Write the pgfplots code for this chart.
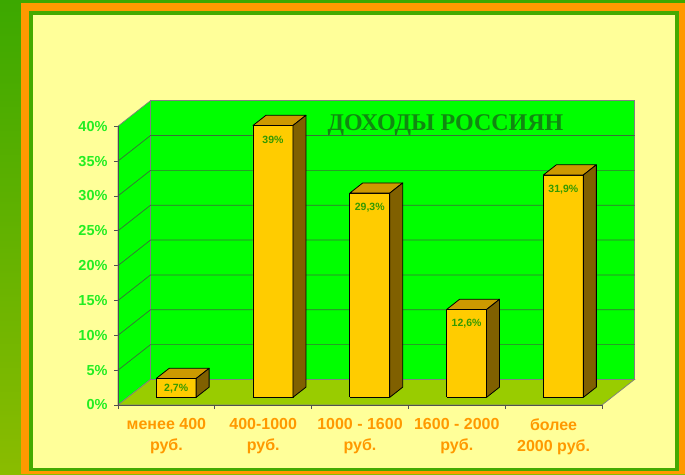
\documentclass[border=0pt]{standalone}
\usepackage{pgfplots}
\pgfplotsset{compat=1.18}
\usepackage{fontspec}
\setmainfont{Liberation Sans}
\newfontfamily\titlefont{Liberation Serif}
\definecolor{outertop}{HTML}{3CA800}
\definecolor{outerbot}{HTML}{8ABC00}
\definecolor{orangeB}{HTML}{FF9900}
\definecolor{greenline}{HTML}{44AA00}
\definecolor{paleyellow}{HTML}{FFFF99}
\definecolor{wallgreen}{HTML}{00FF00}
\definecolor{floorc}{HTML}{99CC00}
\definecolor{wallgray}{HTML}{808080}
\definecolor{gridc}{HTML}{3A6E3A}
\definecolor{tickgray}{HTML}{505050}
\definecolor{barfront}{HTML}{FFCC00}
\definecolor{bartop}{HTML}{CC9900}
\definecolor{barside}{HTML}{806000}
\definecolor{valgreen}{HTML}{339900}
\definecolor{labelorange}{HTML}{FF9900}
\definecolor{ticklabelgreen}{HTML}{22EE22}
\definecolor{titlegreen}{HTML}{118811}

\newcommand{\cubebar}[4]{%
  \pgfmathsetmacro\xa{#1-0.5+0.1007-0.2066}%
  \pgfmathsetmacro\xb{\xa+0.4132}%
  \pgfmathsetmacro\xc{\xa+0.1343}%
  \pgfmathsetmacro\xd{\xb+0.1343}%
  \pgfmathsetmacro\yb{1.098}%
  \pgfmathsetmacro\yt{1.098+#2}%
  \pgfmathsetmacro\ybb{1.098+1.464}%
  \pgfmathsetmacro\ytt{\yt+1.464}%
  \pgfmathsetmacro\xm{(\xa+\xb)/2}%
  \addplot[fill=barfront, draw=black, line width=0.8pt, line join=round]
    coordinates {(\xa,\yb) (\xb,\yb) (\xb,\yt) (\xa,\yt) (\xa,\yb)};
  \addplot[fill=bartop, draw=black, line width=0.8pt, line join=round]
    coordinates {(\xa,\yt) (\xb,\yt) (\xd,\ytt) (\xc,\ytt) (\xa,\yt)};
  \addplot[fill=barside, draw=black, line width=0.8pt, line join=round]
    coordinates {(\xb,\yb) (\xd,\ybb) (\xd,\ytt) (\xb,\yt) (\xb,\yb)};
  \addplot[draw=none, mark=none, nodes near coords, point meta=explicit symbolic,
    nodes near coords style={anchor=center, yshift=-#4pt, text=valgreen,
      font=\bfseries\fontsize{10.5}{12}\selectfont, inner sep=0pt}]
    coordinates {(\xm,\yt) [#3]};
}

\begin{document}
\begin{tikzpicture}
\useasboundingbox (0,0) rectangle (685pt,474pt);
\shade[top color=outertop, bottom color=outerbot] (0,0) rectangle (685pt,474pt);
\fill[orangeB] (21pt,0pt) rectangle (685pt,471pt);
\fill[greenline] (29pt,3pt) rectangle (679pt,463pt);
\fill[paleyellow] (32.5pt,6pt) rectangle (675pt,459pt);
\begin{axis}[
  at={(118pt,69pt)}, anchor=south west,
  x=96.8pt, y=6.97pt,
  xmin=0, xmax=5.3357, ymin=0, ymax=43.66,
  clip=false,
  axis lines=left, axis line style={draw=none},
  tick align=outside, major tick length=4pt,
  tick style={draw=tickgray, line width=0.7pt},
  xtick={0,1,2,3,4,5},
  x tick label as interval,
  xticklabels={{менее 400\\руб.},{400-1000\\руб.},{1000 - 1600\\руб.},{1600 - 2000\\руб.},{более\\2000 руб.}},
  xticklabel style={align=center, text=labelorange, yshift=-6pt,
    font=\bfseries\fontsize{16}{21}\selectfont},
  ytick={0,5,...,40},
  yticklabel={\pgfmathprintnumber{\tick}\%},
  yticklabel style={text=ticklabelgreen, xshift=-3pt,
    font=\bfseries\fontsize{14.5}{16}\selectfont},
  /pgf/number format/assume math mode=true,
]
% back wall, left wall, floor
\addplot[fill=wallgreen, draw=wallgray, line width=0.7pt]
  coordinates {(0.3357,3.66) (5.3357,3.66) (5.3357,43.66) (0.3357,43.66) (0.3357,3.66)};
\addplot[fill=wallgreen, draw=wallgray, line width=0.7pt]
  coordinates {(0,0) (0.3357,3.66) (0.3357,43.66) (0,40) (0,0)};
\addplot[fill=floorc, draw=wallgray, line width=0.7pt]
  coordinates {(0,0) (5,0) (5.3357,3.66) (0.3357,3.66) (0,0)};
% grid lines
\addplot[gridc, line width=0.7pt] coordinates {(0,5) (0.3357,8.66) (5.3357,8.66)};
\addplot[gridc, line width=0.7pt] coordinates {(0,10) (0.3357,13.66) (5.3357,13.66)};
\addplot[gridc, line width=0.7pt] coordinates {(0,15) (0.3357,18.66) (5.3357,18.66)};
\addplot[gridc, line width=0.7pt] coordinates {(0,20) (0.3357,23.66) (5.3357,23.66)};
\addplot[gridc, line width=0.7pt] coordinates {(0,25) (0.3357,28.66) (5.3357,28.66)};
\addplot[gridc, line width=0.7pt] coordinates {(0,30) (0.3357,33.66) (5.3357,33.66)};
\addplot[gridc, line width=0.7pt] coordinates {(0,35) (0.3357,38.66) (5.3357,38.66)};
% front axis lines
\addplot[tickgray, line width=0.8pt] coordinates {(0,40) (0,0) (5,0)};
% bars
\cubebar{1}{2.7}{2,7\%}{9.7}
\cubebar{2}{39}{39\%}{14.5}
\cubebar{3}{29.3}{29,3\%}{14.5}
\cubebar{4}{12.6}{12,6\%}{14.5}
\cubebar{5}{31.9}{31,9\%}{14.5}
\end{axis}
\node[text=titlegreen, font=\titlefont\bfseries\fontsize{24}{28}\selectfont]
  at (445.5pt,348.8pt) {ДОХОДЫ РОССИЯН};
\end{tikzpicture}
\end{document}
